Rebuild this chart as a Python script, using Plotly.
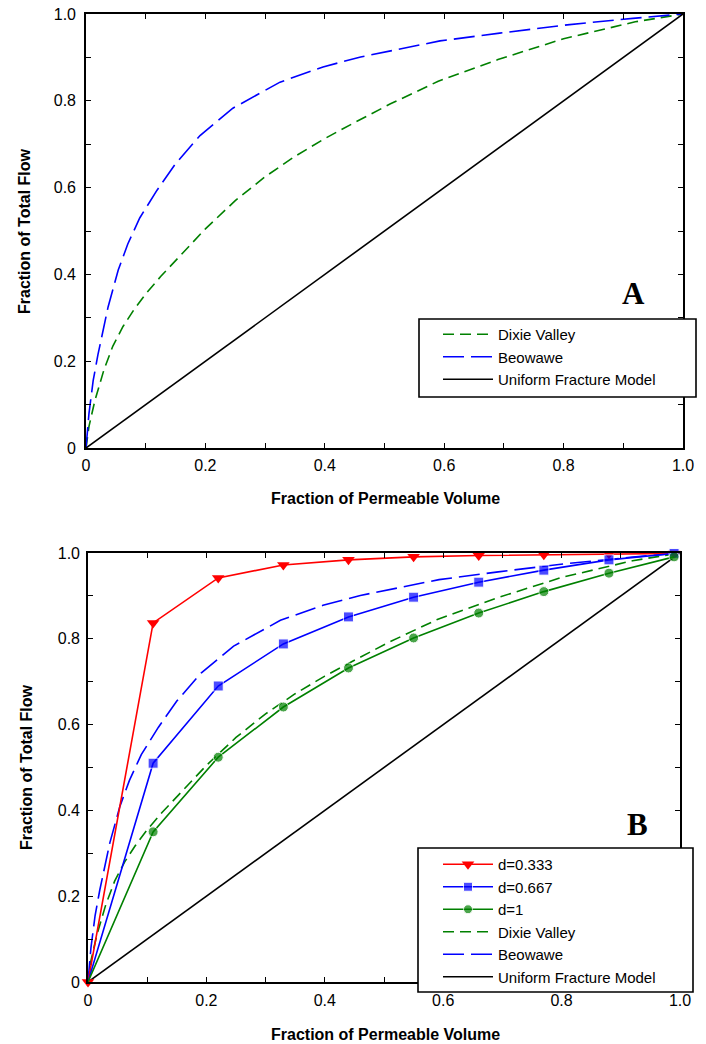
import plotly.graph_objects as go

# ---------------- data ----------------
dixie_x = [0, 0.005, 0.015, 0.03, 0.045, 0.062, 0.08, 0.10, 0.125, 0.16, 0.20, 0.25, 0.30,
           0.35, 0.40, 0.45, 0.51, 0.59, 0.69, 0.80, 0.92, 1.0]
dixie_y = [0, 0.05, 0.11, 0.18, 0.235, 0.28, 0.318, 0.355, 0.395, 0.447, 0.505, 0.57, 0.625,
           0.672, 0.713, 0.75, 0.793, 0.845, 0.895, 0.943, 0.982, 1.0]

beo_x = [0, 0.005, 0.012, 0.02, 0.037, 0.054, 0.07, 0.09, 0.119, 0.15, 0.191, 0.246, 0.325,
         0.397, 0.46, 0.55, 0.593, 0.693, 0.806, 0.916, 1.0]
beo_y = [0, 0.08, 0.155, 0.215, 0.325, 0.41, 0.47, 0.53, 0.594, 0.655, 0.72, 0.783, 0.843,
         0.878, 0.901, 0.925, 0.938, 0.956, 0.975, 0.99, 1.0]

uniform_x = [0, 1]
uniform_y = [0, 1]

model_x = [0, 0.11, 0.22, 0.33, 0.44, 0.55, 0.66, 0.77, 0.88, 0.99]
d0333_y = [0, 0.837, 0.942, 0.972, 0.984, 0.991, 0.994, 0.996, 0.998, 0.999]
d0667_y = [0, 0.510, 0.690, 0.788, 0.851, 0.897, 0.932, 0.960, 0.984, 0.999]
d1_y = [0, 0.350, 0.524, 0.641, 0.732, 0.802, 0.860, 0.910, 0.953, 0.991]

tick_vals = [0, 0.2, 0.4, 0.6, 0.8, 1.0]
tick_text = ["0", "0.2", "0.4", "0.6", "0.8", "1.0"]
minor_vals = [0.1, 0.3, 0.5, 0.7, 0.9]

GREEN = "#008000"
BLUE = "#0000FF"
RED = "#FF0000"
W, H = 706, 1044
FONT = "Liberation Sans, Arial, sans-serif"

fig = go.Figure()

def field_traces(xa, ya, leg, rank0):
    fig.add_trace(go.Scatter(x=dixie_x, y=dixie_y, mode="lines", name="Dixie Valley",
                             line=dict(color=GREEN, width=1.6, dash="11px,6px"),
                             xaxis=xa, yaxis=ya, legend=leg, legendrank=rank0))
    fig.add_trace(go.Scatter(x=beo_x, y=beo_y, mode="lines", name="Beowawe",
                             line=dict(color=BLUE, width=1.6, dash="21px,7px"),
                             xaxis=xa, yaxis=ya, legend=leg, legendrank=rank0 + 1))
    fig.add_trace(go.Scatter(x=uniform_x, y=uniform_y, mode="lines", name="Uniform Fracture Model",
                             line=dict(color="black", width=1.6),
                             xaxis=xa, yaxis=ya, legend=leg, legendrank=rank0 + 2))

# Panel A
field_traces("x", "y", "legend", 1)

# Panel B
field_traces("x2", "y2", "legend2", 4)
# no marker drawn at the origin for these two series (legend uses the mean size -> 9)
hide_origin = [0] + [10] * (len(model_x) - 1)
fig.add_trace(go.Scatter(x=model_x, y=d0333_y, mode="lines+markers", name="d=0.333",
                         line=dict(color=RED, width=1.6),
                         marker=dict(symbol="triangle-down", size=11, color=RED),
                         cliponaxis=False, xaxis="x2", yaxis="y2", legend="legend2", legendrank=1))
fig.add_trace(go.Scatter(x=model_x, y=d0667_y, mode="lines+markers", name="d=0.667",
                         line=dict(color=BLUE, width=1.6),
                         marker=dict(symbol="square", size=hide_origin, color=BLUE),
                         cliponaxis=False, xaxis="x2", yaxis="y2", legend="legend2", legendrank=2))
fig.add_trace(go.Scatter(x=model_x, y=d1_y, mode="lines+markers", name="d=1",
                         line=dict(color=GREEN, width=1.6),
                         marker=dict(symbol="circle", size=hide_origin, color=GREEN),
                         cliponaxis=False, xaxis="x2", yaxis="y2", legend="legend2", legendrank=3))

def px_x(p):
    return p / W

def px_y(p):
    return 1 - p / H

def axis(domain, standoff, anchor):
    return dict(domain=domain, range=[0, 1], anchor=anchor,
                tickmode="array", tickvals=tick_vals, ticktext=tick_text,
                ticks="inside", ticklen=5, tickwidth=1.2, tickcolor="black",
                minor=dict(tickmode="array", tickvals=minor_vals, ticks="inside",
                           ticklen=5, tickwidth=1.2, tickcolor="black"),
                showline=True, linecolor="black", linewidth=1.6, mirror="allticks",
                showgrid=False, zeroline=False, automargin=False,
                ticklabelstandoff=standoff, ticklabeloverflow="allow",
                tickfont=dict(family=FONT, size=16, color="black"))

fig.update_layout(
    width=W, height=H,
    margin=dict(l=0, r=0, t=0, b=0),
    paper_bgcolor="white", plot_bgcolor="white",
    xaxis=axis([px_x(86), px_x(683)], 2, "y"),
    yaxis=axis([px_y(448), px_y(14)], 5, "x"),
    xaxis2=axis([px_x(88), px_x(680)], 3, "y2"),
    yaxis2=axis([px_y(982), px_y(553)], 3, "x2"),
    legend=dict(x=px_x(438), y=px_y(318), xanchor="left", yanchor="top",
                bgcolor="rgba(0,0,0,0)", borderwidth=0, itemwidth=50,
                font=dict(family=FONT, size=15, color="black"), tracegroupgap=0),
    legend2=dict(x=px_x(438), y=px_y(848), xanchor="left", yanchor="top",
                 bgcolor="rgba(0,0,0,0)", borderwidth=0, itemwidth=50,
                 font=dict(family=FONT, size=15, color="black"), tracegroupgap=0),
    showlegend=True,
)

# legend frames
fig.add_shape(type="rect", xref="paper", yref="paper", layer="above",
              x0=px_x(419), x1=px_x(696), y0=px_y(397), y1=px_y(319),
              line=dict(color="black", width=1.6), fillcolor="white")
fig.add_shape(type="rect", xref="paper", yref="paper", layer="above",
              x0=px_x(418), x1=px_x(693), y0=px_y(992), y1=px_y(848),
              line=dict(color="black", width=1.6), fillcolor="white")

title_font = dict(family=FONT, size=16, color="black")
ann = [
    dict(text="<b>Fraction of Total Flow</b>", x=px_x(25), y=px_y(231), textangle=-90),
    dict(text="<b>Fraction of Permeable Volume</b>", x=px_x(385), y=px_y(499)),
    dict(text="<b>Fraction of Total Flow</b>", x=px_x(26), y=px_y(767), textangle=-90),
    dict(text="<b>Fraction of Permeable Volume</b>", x=px_x(385), y=px_y(1034)),
]
for a in ann:
    fig.add_annotation(xref="paper", yref="paper", showarrow=False,
                       xanchor="center", yanchor="middle", font=title_font, **a)

letter_font = dict(family="Liberation Serif, Times New Roman, serif", size=31, color="black")
fig.add_annotation(text="<b>A</b>", x=px_x(633), y=px_y(293), xref="paper", yref="paper",
                   showarrow=False, xanchor="center", yanchor="middle", font=letter_font)
fig.add_annotation(text="<b>B</b>", x=px_x(637), y=px_y(824), xref="paper", yref="paper",
                   showarrow=False, xanchor="center", yanchor="middle", font=letter_font)

# place the figure flush with the page corner (no default body margin)
fig.write_html("out.html",
               config={"displayModeBar": False},
               post_script="document.body.style.margin='0px';document.body.style.overflow='hidden';")
